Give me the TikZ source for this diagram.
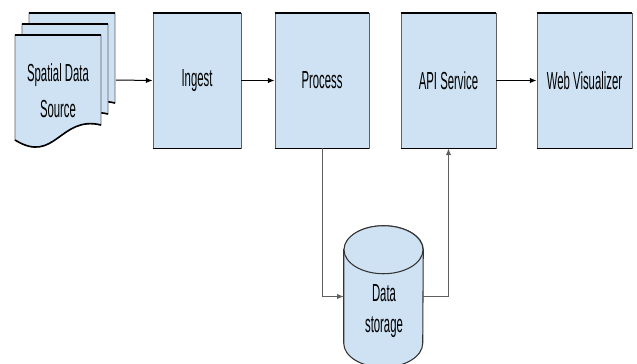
\documentclass[tikz,border=0pt]{standalone}
\usepackage{fontspec}
\usetikzlibrary{arrows.meta}
\newfontfamily\labelfont{Liberation Sans}[FakeStretch=0.46]
\definecolor{boxblue}{RGB}{207,226,243}
\definecolor{edgegray}{RGB}{95,95,95}

\tikzset{
  stage/.style={fill=boxblue, draw=edgegray, line width=0.6pt, minimum width=71pt, minimum height=101.25pt,
    inner sep=0.75pt, font=\labelfont\fontsize{18.5}{21}\selectfont, align=center},
  sheet/.style={fill=boxblue, draw=edgegray, line width=0.6pt},
  can/.style={fill=boxblue, draw=black!80, line width=0.8pt},
  hedge/.style={draw=black, line width=1.6pt},
  link/.style={draw=black, line width=0.75pt, -{Latex[length=5pt,width=4pt]}},
}

\begin{document}
\begin{tikzpicture}[x=0.75pt,y=0.75pt,yscale=-1,xscale=1]
    \path[use as bounding box] (0,0) rectangle (637,364);

    %Shape: stacked sheets
    \foreach \dx/\dy in {14/-22, 7/-11, 0/0}{
      \begin{scope}[shift={(15+\dx,35+\dy)}]
        \draw[sheet] (0,0) -- (86,0) -- (86,90) .. controls (45,80) and (40,130) .. (0,105) -- cycle ;
        \draw[hedge] (0,0) -- (86,0) ;
        \draw[black, line width=1.2pt] (86,90) .. controls (45,80) and (40,130) .. (0,105) ;
      \end{scope}
    }
    % Text Node
    \node[font=\labelfont\fontsize{18.5}{27}\selectfont, align=center, inner sep=0.75pt] (source) at (58,91) {Spatial Data\\Source};
    \coordinate (sourceout) at (116,80);

    %Stages
    \node[stage, minimum width=66pt] (ingest) at (197,80.5) {Ingest};
    \node[stage, minimum width=70.5pt] (process) at (322,80.5) {Process};
    \node[stage, minimum width=71.25pt] (api) at (448.5,80.5) {API Service};
    \node[stage, minimum width=71.25pt] (web) at (584.5,80.5) {Web Visualizer};
    \foreach \n in {ingest,process,api,web}{
      \draw[hedge] (\n.north west) -- (\n.north east) ;
      \draw[black, line width=1.1pt] (\n.south west) -- (\n.south east) ;
    }

    %Shape: Can
    \node[minimum width=59.25pt, minimum height=105.75pt, inner sep=0pt] (storage) at (383.5,296.5) {};
    \draw[can] ([yshift=18pt]storage.north west) -- ([yshift=-18pt]storage.south west) arc (180:0:39.5 and 24)
      -- ([yshift=18pt]storage.north east) arc (0:-180:39.5 and 24) -- cycle ;
    \draw[can] ([yshift=18pt]storage.north) ellipse (39.5 and 24) ;
    % Text Node
    \node[font=\labelfont\fontsize{18.5}{23}\selectfont, align=center, inner sep=0.75pt] (storagetext) at (384,311) {Data\\storage};

    %Straight Lines
    \draw[link] (sourceout) -- (ingest.west) ;
    \draw[link] (ingest.east) -- (process.west) ;
    \draw[link] (api.east) -- (web.west) ;
    \draw[link, draw=edgegray] (process.south) |- (storage.west) ;
    \draw[link, draw=edgegray] (storage.east) -| (api.south) ;

\end{tikzpicture}
\end{document}
